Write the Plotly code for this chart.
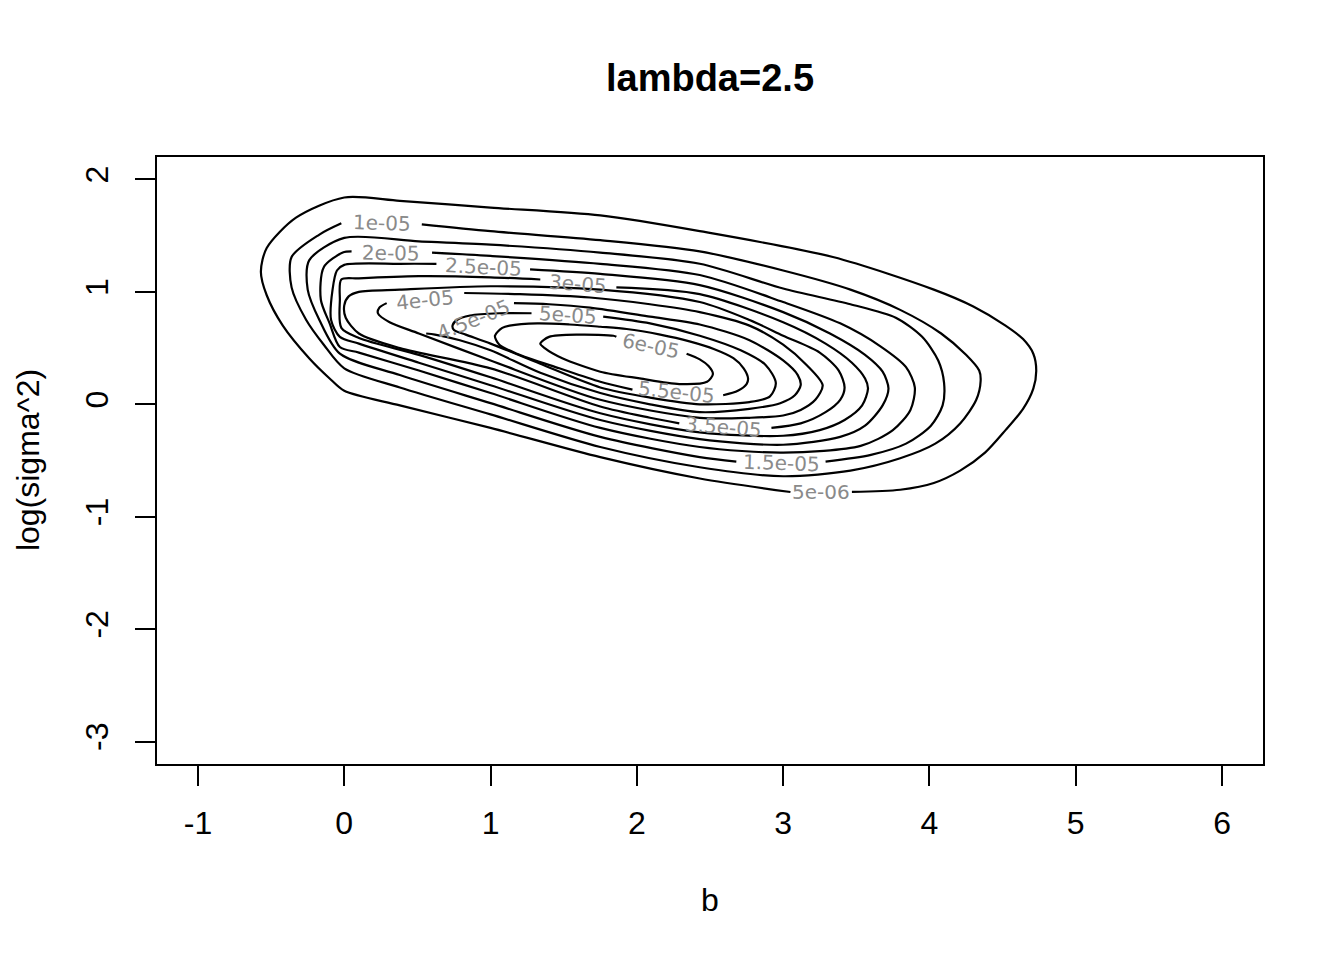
"""Contour plot of the likelihood surface for lambda=2.5 (b vs log(sigma^2))."""

import plotly.graph_objects as go

# ---------------------------------------------------------------------------
# Data: one open polyline per contour level, running
# from one side of its label gap round to the other side.
# ---------------------------------------------------------------------------

levels = ["5e-06", "1e-05", "1.5e-05", "2e-05", "2.5e-05", "3e-05",
          "3.5e-05", "4e-05", "4.5e-05", "5e-05", "5.5e-05", "6e-05"]

x_5e06 = [3.47, 3.80, 4.03, 4.21, 4.38, 4.52, 4.64, 4.71, 4.73, 4.71, 4.64,
          4.52, 4.30, 4.03, 3.34, 2.43, 1.75, 1.00, 0.38, 0.00, -0.33, -0.53,
          -0.57, -0.53, -0.42, -0.24, -0.10, 0.00, 0.38, 1.00, 1.75, 2.43, 3.05]
y_5e06 = [-0.78, -0.76, -0.70, -0.59, -0.43, -0.23, -0.04, 0.14, 0.30, 0.45,
          0.58, 0.70, 0.87, 1.02, 1.31, 1.54, 1.68, 1.75, 1.81, 1.84, 1.66,
          1.39, 1.18, 0.97, 0.70, 0.41, 0.23, 0.12, -0.01, -0.21, -0.47, -0.66,
          -0.78]

x_1e05 = [0.53, 1.00, 1.75, 2.43, 3.00, 3.46, 3.80, 4.08, 4.25, 4.34, 4.35,
          4.32, 4.21, 4.04, 3.80, 3.46, 3.00, 2.43, 1.75, 1.00, 0.38, 0.00,
          -0.14, -0.26, -0.36, -0.36, -0.17, -0.02]
y_1e05 = [1.60, 1.54, 1.46, 1.36, 1.19, 1.02, 0.84, 0.63, 0.44, 0.30, 0.21,
          0.04, -0.17, -0.35, -0.48, -0.59, -0.64, -0.56, -0.38, -0.09, 0.15,
          0.32, 0.53, 0.75, 1.04, 1.31, 1.51, 1.61]

x_1p5e05 = [3.29, 3.60, 3.84, 4.01, 4.09, 4.10, 4.06, 3.95, 3.77, 3.46, 3.00,
            2.43, 1.75, 1.00, 0.51, 0.00, -0.24, -0.25, -0.17, -0.03, 0.38,
            1.00, 1.75, 2.43, 2.68]
y_1p5e05 = [-0.51, -0.45, -0.35, -0.19, -0.01, 0.19, 0.39, 0.60, 0.77, 0.89,
            1.03, 1.25, 1.35, 1.42, 1.45, 1.48, 1.28, 1.02, 0.75, 0.45, 0.26,
            0.01, -0.29, -0.47, -0.51]

x_2e05 = [0.60, 1.00, 1.75, 2.43, 3.00, 3.39, 3.66, 3.84, 3.90, 3.87, 3.75,
          3.53, 3.00, 2.43, 1.75, 1.00, 0.51, 0.10, -0.03, -0.10, -0.16, -0.14,
          -0.01, 0.05]
y_2e05 = [1.35, 1.32, 1.25, 1.15, 0.91, 0.72, 0.52, 0.33, 0.15, -0.05, -0.23,
          -0.37, -0.43, -0.38, -0.21, 0.10, 0.30, 0.46, 0.51, 0.72, 0.93, 1.22,
          1.35, 1.36]

x_2p5e05 = [1.27, 1.75, 2.43, 3.00, 3.32, 3.56, 3.68, 3.72, 3.68, 3.56, 3.39,
            3.00, 2.43, 1.75, 1.00, 0.51, 0.10, -0.03, -0.09, -0.08, -0.05,
            0.00, 0.38, 0.63]
y_2p5e05 = [1.20, 1.16, 1.06, 0.82, 0.63, 0.44, 0.29, 0.14, -0.01, -0.19,
            -0.29, -0.36, -0.31, -0.14, 0.17, 0.37, 0.54, 0.60, 0.75, 1.02,
            1.19, 1.24, 1.25, 1.25]

x_3e05 = [1.86, 2.43, 3.00, 3.29, 3.47, 3.56, 3.58, 3.54, 3.42, 3.25, 3.00,
          2.43, 1.75, 1.00, 0.51, 0.10, -0.02, -0.03, -0.02, 0.10, 0.51, 1.00,
          1.34]
y_3e05 = [1.04, 0.98, 0.73, 0.54, 0.37, 0.23, 0.14, -0.01, -0.14, -0.23, -0.28,
          -0.25, -0.08, 0.24, 0.44, 0.59, 0.68, 0.93, 1.11, 1.12, 1.14, 1.13,
          1.11]

x_3p5e05 = [2.92, 3.12, 3.29, 3.39, 3.42, 3.38, 3.25, 3.00, 2.77, 2.43, 1.75,
            1.00, 0.38, 0.10, 0.03, 0.00, 0.01, 0.10, 0.38, 1.00, 1.75, 2.09,
            2.29]
y_3p5e05 = [-0.21, -0.17, -0.07, 0.04, 0.15, 0.30, 0.46, 0.61, 0.75, 0.91,
            1.02, 1.05, 1.02, 1.00, 0.96, 0.88, 0.77, 0.63, 0.50, 0.32, -0.02,
            -0.12, -0.17]

x_4e05 = [0.82, 1.20, 1.68, 2.09, 2.43, 2.77, 3.00, 3.16, 3.27, 3.22, 3.12,
          3.00, 2.77, 2.43, 1.75, 1.00, 0.51, 0.31, 0.23, 0.24, 0.29]
y_4e05 = [0.99, 0.98, 0.95, 0.89, 0.82, 0.70, 0.53, 0.35, 0.17, 0.04, -0.05,
          -0.10, -0.12, -0.12, 0.04, 0.39, 0.63, 0.73, 0.81, 0.86, 0.90]

x_4p5e05 = [1.16, 1.40, 1.68, 2.09, 2.43, 2.77, 3.00, 3.10, 3.12, 3.08, 2.98,
            2.77, 2.43, 2.09, 1.75, 1.34, 1.00, 0.79, 0.62, 0.56]
y_4p5e05 = [0.90, 0.89, 0.86, 0.78, 0.71, 0.57, 0.39, 0.26, 0.17, 0.08, 0.01,
            -0.04, -0.07, 0.00, 0.10, 0.28, 0.48, 0.57, 0.62, 0.63]

x_5e05 = [1.77, 2.09, 2.43, 2.71, 2.88, 2.95, 2.91, 2.77, 2.43, 2.09, 1.75,
          1.34, 1.00, 0.83, 0.75, 0.74, 0.77, 0.86, 1.06, 1.28]
y_5e05 = [0.78, 0.72, 0.61, 0.48, 0.35, 0.19, 0.07, 0.02, 0.00, 0.06, 0.15,
          0.36, 0.54, 0.62, 0.66, 0.70, 0.75, 0.79, 0.81, 0.81]

x_5p5e05 = [2.59, 2.69, 2.75, 2.76, 2.73, 2.66, 2.53, 2.36, 2.16, 1.93, 1.75,
            1.54, 1.32, 1.13, 1.08, 1.03, 1.06, 1.18, 1.47, 1.75, 1.97]
y_5p5e05 = [0.08, 0.12, 0.18, 0.23, 0.32, 0.41, 0.49, 0.56, 0.62, 0.67, 0.69,
            0.71, 0.72, 0.70, 0.68, 0.61, 0.53, 0.45, 0.32, 0.20, 0.13]

x_6e05 = [2.34, 2.43, 2.49, 2.52, 2.48, 2.29, 2.02, 1.75, 1.49, 1.37, 1.34,
          1.40, 1.61, 1.84, 1.86]
y_6e05 = [0.45, 0.40, 0.34, 0.27, 0.20, 0.18, 0.23, 0.29, 0.41, 0.50, 0.54,
          0.60, 0.62, 0.61, 0.60]

# where each level's label sits on its contour (data units, same order as levels)
label_x = [3.26, 0.26, 2.99, 0.32, 0.95, 1.60, 2.59, 0.55, 0.88, 1.53, 2.27, 2.10]
label_y = [-0.78, 1.61, -0.52, 1.35, 1.22, 1.07, -0.20, 0.93, 0.75, 0.79, 0.11, 0.52]
label_angle = [0, 2, 2, 1, 3, 5, 5, -6, -22, 4, 6, 12]

x_ticks = [-1, 0, 1, 2, 3, 4, 5, 6]
x_tick_text = ["-1", "0", "1", "2", "3", "4", "5", "6"]
y_ticks = [-3, -2, -1, 0, 1, 2]
y_tick_text = ["-3", "-2", "-1", "0", "1", "2"]

contours = [
    (x_5e06, y_5e06), (x_1e05, y_1e05), (x_1p5e05, y_1p5e05),
    (x_2e05, y_2e05), (x_2p5e05, y_2p5e05), (x_3e05, y_3e05),
    (x_3p5e05, y_3p5e05), (x_4e05, y_4e05), (x_4p5e05, y_4p5e05),
    (x_5e05, y_5e05), (x_5p5e05, y_5p5e05), (x_6e05, y_6e05),
]

FONT = "Liberation Sans, Arial, Helvetica, sans-serif"

fig = go.Figure()

for level, (xs, ys) in zip(levels, contours):
    fig.add_trace(
        go.Scatter(
            x=xs,
            y=ys,
            mode="lines",
            line=dict(color="black", width=2.2, shape="spline", smoothing=0.8),
            name=level,
            showlegend=False,
            hoverinfo="skip",
        )
    )

# contour labels (R draws them in the gap left in each line)
for text, lx, ly, ang in zip(levels, label_x, label_y, label_angle):
    fig.add_annotation(
        x=lx,
        y=ly,
        text=text,
        textangle=ang,
        showarrow=False,
        font=dict(family="DejaVu Sans", size=20, color="#8a8a8a"),
        xanchor="center",
        yanchor="middle",
    )

# axis titles
fig.add_annotation(
    xref="paper", yref="paper", x=0.5, y=-0.224, text="b",
    showarrow=False, font=dict(family=FONT, size=32, color="black"),
    xanchor="center", yanchor="middle",
)
fig.add_annotation(
    xref="paper", yref="paper", x=-0.117, y=0.5, text="log(sigma^2)",
    textangle=-90, showarrow=False, font=dict(family=FONT, size=32, color="black"),
    xanchor="center", yanchor="middle",
)

axis_style = dict(
    ticks="outside",
    ticklen=20,
    tickwidth=2,
    tickcolor="black",
    showline=True,
    linewidth=2,
    linecolor="black",
    mirror=True,
    showgrid=False,
    zeroline=False,
    tickfont=dict(family=FONT, size=32, color="black"),
)

fig.update_xaxes(range=[-1.28, 6.28], tickmode="array", tickvals=x_ticks,
                 ticktext=x_tick_text, ticklabelstandoff=10, **axis_style)
fig.update_yaxes(range=[-3.2, 2.2], tickmode="array", tickvals=y_ticks,
                 ticktext=y_tick_text, tickangle=-90, ticklabelstandoff=14,
                 **axis_style)

# the page body adds an 8px margin, so the plot margins are trimmed by 8px
fig.update_layout(
    width=1344,
    height=960,
    margin=dict(l=149, r=89, t=149, b=204),
    paper_bgcolor="white",
    plot_bgcolor="white",
    title=dict(
        text="<b>lambda=2.5</b>",
        x=0.5,
        xref="paper",
        y=1 - 70 / 960,
        yref="container",
        xanchor="center",
        yanchor="middle",
        font=dict(family=FONT, size=38, color="black"),
    ),
)

fig.write_html("out.html")
